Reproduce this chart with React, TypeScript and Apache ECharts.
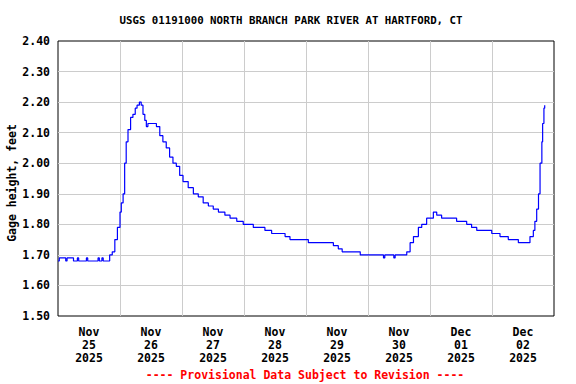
import React, { useEffect, useRef } from "react";
import * as echarts from "echarts";

const TITLE = "USGS 01191000 NORTH BRANCH PARK RIVER AT HARTFORD, CT";
const Y_NAME = "Gage height, feet";
const FOOTER = "---- Provisional Data Subject to Revision ----";

const dayLabels = [
  "Nov\n25\n2025",
  "Nov\n26\n2025",
  "Nov\n27\n2025",
  "Nov\n28\n2025",
  "Nov\n29\n2025",
  "Nov\n30\n2025",
  "Dec\n01\n2025",
  "Dec\n02\n2025",
];

// hours since Nov 25 00:00
const hours = [
  0, 0.5, 2.5, 3, 3.5, 5.5, 6, 7, 7.5, 8, 10.5, 11, 11.5, 15, 15.5, 16, 17, 17.5, 19.5,
  20, 21, 22, 23, 24, 24.5, 25.2, 25.8, 26.4, 27.1, 28.1, 29, 29.9, 30.6, 31.5, 32.2,
  32.9, 33.6, 34.2, 34.8, 36.8, 38.1, 39.4, 40.6, 41.9, 43.2, 44.5, 45.8, 47.1, 48.4,
  50.4, 52.4, 54.3, 56.2, 58.2, 60.1, 62.1, 64.6, 66.6, 69.2, 71.7, 73.7, 75.6, 78.2,
  80.1, 82.7, 85.3, 87.9, 89.8, 91.7, 93.7, 96.9, 100, 106.6, 108.5, 110, 116, 117,
  124, 126, 126.5, 130, 130.5, 133.7, 135, 136.3, 137.6, 139.5, 140.8, 142.7, 145.3,
  146.6, 148.5, 151.7, 154.3, 156.9, 158.2, 160.1, 162.1, 164.6, 167.9, 171.1, 174.3,
  178.2, 180.1, 181.4, 182.7, 184, 184.6, 185.3, 186, 186.6, 187.3, 187.6, 188.1, 188.4,
];

const heights = [
  1.68, 1.69, 1.69, 1.68, 1.69, 1.69, 1.68, 1.68, 1.69, 1.68, 1.68, 1.69, 1.68, 1.68, 1.69, 1.68, 1.69, 1.68, 1.68,
  1.70, 1.71, 1.75, 1.79, 1.84, 1.87, 1.90, 2.00, 2.07, 2.11, 2.15, 2.16, 2.18, 2.19, 2.20, 2.19,
  2.16, 2.14, 2.12, 2.13, 2.13, 2.12, 2.09, 2.07, 2.05, 2.02, 2.00, 1.99, 1.96, 1.94,
  1.92, 1.90, 1.89, 1.87, 1.86, 1.85, 1.84, 1.83, 1.82, 1.81, 1.80, 1.80, 1.79, 1.79,
  1.78, 1.77, 1.77, 1.76, 1.75, 1.75, 1.75, 1.74, 1.74, 1.73, 1.72, 1.71, 1.71, 1.70,
  1.70, 1.69, 1.70, 1.69, 1.70, 1.70, 1.71, 1.74, 1.76, 1.79, 1.80, 1.82, 1.84,
  1.83, 1.82, 1.82, 1.81, 1.81, 1.80, 1.79, 1.78, 1.78, 1.77, 1.76, 1.75,
  1.74, 1.74, 1.74, 1.76, 1.78, 1.81, 1.85, 1.90, 2.00, 2.07, 2.13, 2.18, 2.19,
];

const FONT = "'DejaVu Sans Mono', 'Liberation Mono', monospace";

export default function App() {
  const ref = useRef<HTMLDivElement>(null);
  useEffect(() => {
    if (!ref.current) return;
    const chart = echarts.init(ref.current, null, { renderer: "svg" });
    const data = hours.map((h, i) => [h, heights[i]]);
    chart.setOption({
      animation: false,
      backgroundColor: "#ffffff",
      grid: {
        left: 58,
        right: 22,
        top: 41,
        bottom: 68,
        show: true,
        borderColor: "#000000",
        borderWidth: 1,
        backgroundColor: "transparent",
      },
      xAxis: [
        {
          type: "category",
          data: dayLabels,
          boundaryGap: true,
          axisLine: { show: false },
          axisTick: { show: false, interval: 0 },
          splitLine: {
            show: true,
            interval: 0,
            showMinLine: false,
            showMaxLine: false,
            lineStyle: { color: "#cccccc", width: 1 },
          },
          axisLabel: {
            interval: 0,
            margin: 9,
            color: "#000000",
            fontFamily: FONT,
            fontWeight: "bold",
            fontSize: 11.5,
            lineHeight: 13,
          },
        },
        {
          type: "value",
          min: 0,
          max: 192,
          show: false,
        },
      ],
      yAxis: {
        type: "value",
        min: 1.5,
        max: 2.4,
        interval: 0.1,
        axisLine: { show: false },
        axisTick: { show: false },
        splitLine: {
          show: true,
          showMinLine: false,
          showMaxLine: false,
          lineStyle: { color: "#cccccc", width: 1 },
        },
        axisLabel: {
          margin: 8,
          color: "#000000",
          fontFamily: FONT,
          fontWeight: "bold",
          fontSize: 11.5,
          formatter: (v: number) => v.toFixed(2),
        },
      },
      series: [
        {
          type: "line",
          xAxisIndex: 1,
          data,
          step: "end",
          showSymbol: false,
          symbol: "none",
          lineStyle: { color: "#0000ff", width: 1.2 },
          z: 5,
        },
      ],
      graphic: [
        {
          type: "text",
          x: 291,
          y: 20,
          style: {
            text: TITLE,
            fill: "#000000",
            font: `bold 10.75px ${FONT}`,
            textAlign: "center",
            textVerticalAlign: "middle",
          },
        },
        {
          type: "text",
          x: 12,
          y: 183,
          rotation: Math.PI / 2,
          style: {
            text: Y_NAME,
            fill: "#000000",
            font: `bold 11.5px ${FONT}`,
            textAlign: "center",
            textVerticalAlign: "middle",
          },
        },
        {
          type: "text",
          x: 305,
          y: 375,
          style: {
            text: FOOTER,
            fill: "#ff0000",
            font: `bold 11.5px ${FONT}`,
            textAlign: "center",
            textVerticalAlign: "middle",
          },
        },
      ],
    });
    return () => chart.dispose();
  }, []);
  return (
    <div
      ref={ref}
      style={{ position: "fixed", left: 0, top: 0, width: 576, height: 384 }}
    />
  );
}
